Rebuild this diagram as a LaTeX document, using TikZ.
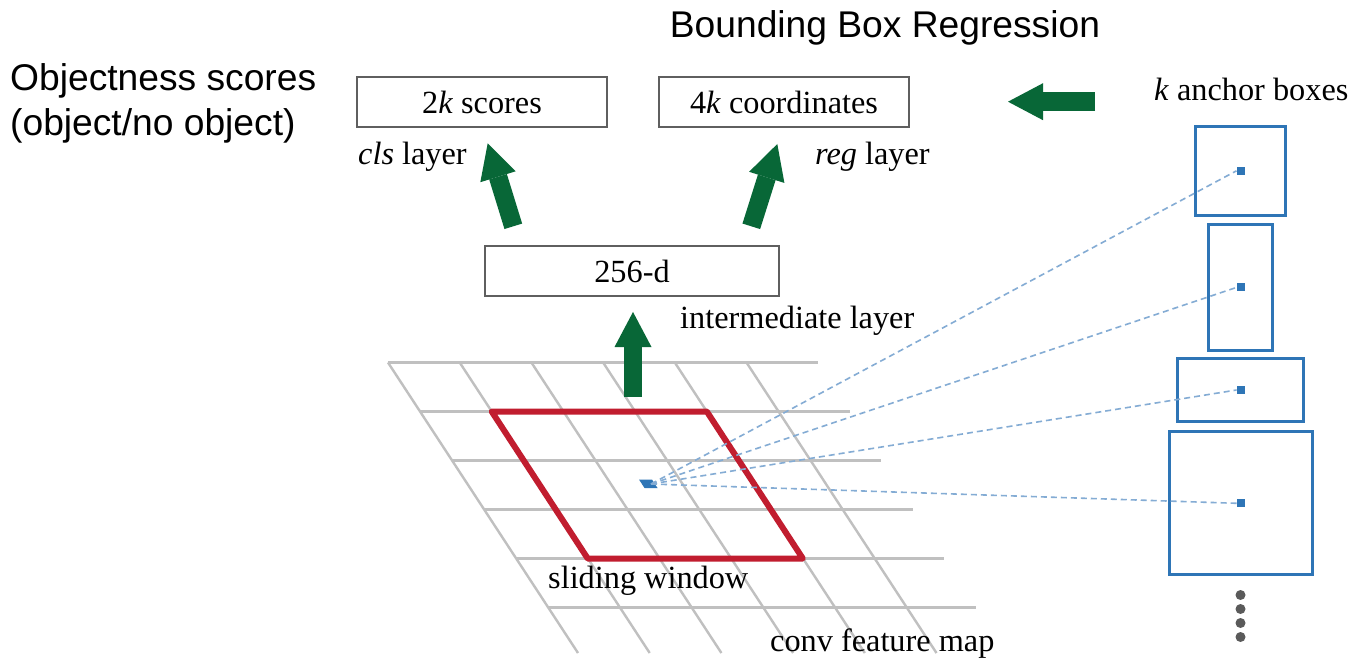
\documentclass[tikz,border=0pt]{standalone}
\usepackage{fontspec}
\setmainfont{Liberation Serif}
\newfontfamily\headfont{Liberation Sans}
\usetikzlibrary{arrows.meta}

\definecolor{gridgray}{RGB}{192,192,192}
\definecolor{winred}{RGB}{193,29,47}
\definecolor{anchorblue}{RGB}{46,117,182}
\definecolor{raylight}{RGB}{132,172,212}
\definecolor{arrowgreen}{RGB}{8,103,55}
\definecolor{boxgray}{RGB}{95,95,95}
\definecolor{dotgray}{RGB}{90,90,90}

\begin{document}
\begin{tikzpicture}[x=1pt,y=-1pt,
  serif/.style={font=\fontsize{32.3}{38}\selectfont, inner sep=0pt},
  sans/.style={font=\headfont\fontsize{37.2}{44}\selectfont, inner sep=0pt},
  layerbox/.style={draw=boxgray, line width=2pt, minimum height=50pt,
    inner sep=0pt, font=\fontsize{32.3}{38}\selectfont},
  gridline/.style={draw=gridgray, line width=2.4pt},
  window/.style={draw=winred, line width=6pt, line join=round},
  anchorbox/.style={draw=anchorblue, line width=3pt, inner sep=0pt},
  anchordot/.style={fill=anchorblue, minimum size=8pt, inner sep=0pt},
  ray/.style={draw=raylight, line width=1.6pt, dash pattern=on 6pt off 4pt},
  bigarrow/.style={draw=arrowgreen, line width=18.5pt,
    -{Triangle[width=37pt,length=35pt,line width=0pt]}},
  moredot/.style={circle, fill=dotgray, minimum size=10pt, inner sep=0pt},
]
\useasboundingbox (0,0) rectangle (1352,660);
\fill[white] (0,0) rectangle (1352,660);

% feature map grid (sheared)
\foreach \i in {0,...,5}
  \draw[gridline] ({388+32*\i},{362.5+49*\i}) -- ({818+31.6*\i},{362.5+49*\i});
\foreach \j in {0,...,5}
  \draw[gridline] ({388+71.7*\j},362.5) -- ({578+71.7*\j},653);

% sliding window
\draw[window] (491.7,411.5) -- (706.8,411.5) -- (802.8,558.5) -- (587.7,558.5) -- cycle;

% window centre
\fill[anchorblue] (639,479.5) -- (652,479.5) -- (657.5,488) -- (644.5,488) -- cycle;
\coordinate (ctr) at (651,484);

% layer boxes
\node[layerbox, minimum width=250pt] (cls) at (482,102) {2\textit{k} scores};
\node[layerbox, minimum width=250pt] (reg) at (784,102) {4\textit{k} coordinates};
\node[layerbox, minimum width=294pt] (mid) at (632,271) {256-d};

% anchor boxes
\node[anchorbox, minimum width=90pt, minimum height=89pt] (a1) at (1240.7,170.8) {};
\node[anchorbox, minimum width=63.7pt, minimum height=126pt] (a2) at (1240.8,287.4) {};
\node[anchorbox, minimum width=126.3pt, minimum height=63pt] (a3) at (1240.8,390) {};
\node[anchorbox, minimum width=143pt, minimum height=143pt] (a4) at (1240.8,503.3) {};
\foreach \k in {1,...,4}
  \node[anchordot] (d\k) at (a\k.center) {};

% rays from the window centre to the anchor centres
\foreach \k in {1,...,4}
  \draw[ray] (ctr) -- (d\k.west);

% more anchors
\foreach \y [count=\n] in {595,609,623,637}
  \node[moredot] (m\n) at (1240.5,\y) {};

% green arrows
\coordinate (upA) at (633,397);   \coordinate (upB) at (633,312);
\coordinate (clsA) at (513.3,226.3); \coordinate (clsB) at (487.7,143.3);
\coordinate (regA) at (751.3,226.3); \coordinate (regB) at (777.3,144);
\coordinate (ancA) at (1095,101.7); \coordinate (ancB) at (1008,101.7);
\draw[bigarrow] (upA) -- (upB);
\draw[bigarrow] (clsA) -- (clsB);
\draw[bigarrow] (regA) -- (regB);
\draw[bigarrow] (ancA) -- (ancB);

% labels
\node[sans, anchor=base] (bbr) at (885,38) {Bounding Box Regression};
\node[sans, anchor=base west] (obj1) at (10,90.7) {Objectness scores};
\node[sans, anchor=base west] (obj2) at (10,136) {(object/no object)};
\node[serif, anchor=base west] (clsl) at (358,165) {\textit{cls} layer};
\node[serif, anchor=base west] (regl) at (815,165) {\textit{reg} layer};
\node[serif, anchor=base west] (midl) at (680,329) {intermediate layer};
\node[serif, anchor=base west] (swl) at (548,588) {sliding window};
\node[serif, anchor=base west] (cfm) at (770,651) {conv feature map};
\node[serif, anchor=base west] (akl) at (1154,101) {\textit{k} anchor boxes};
\end{tikzpicture}
\end{document}
